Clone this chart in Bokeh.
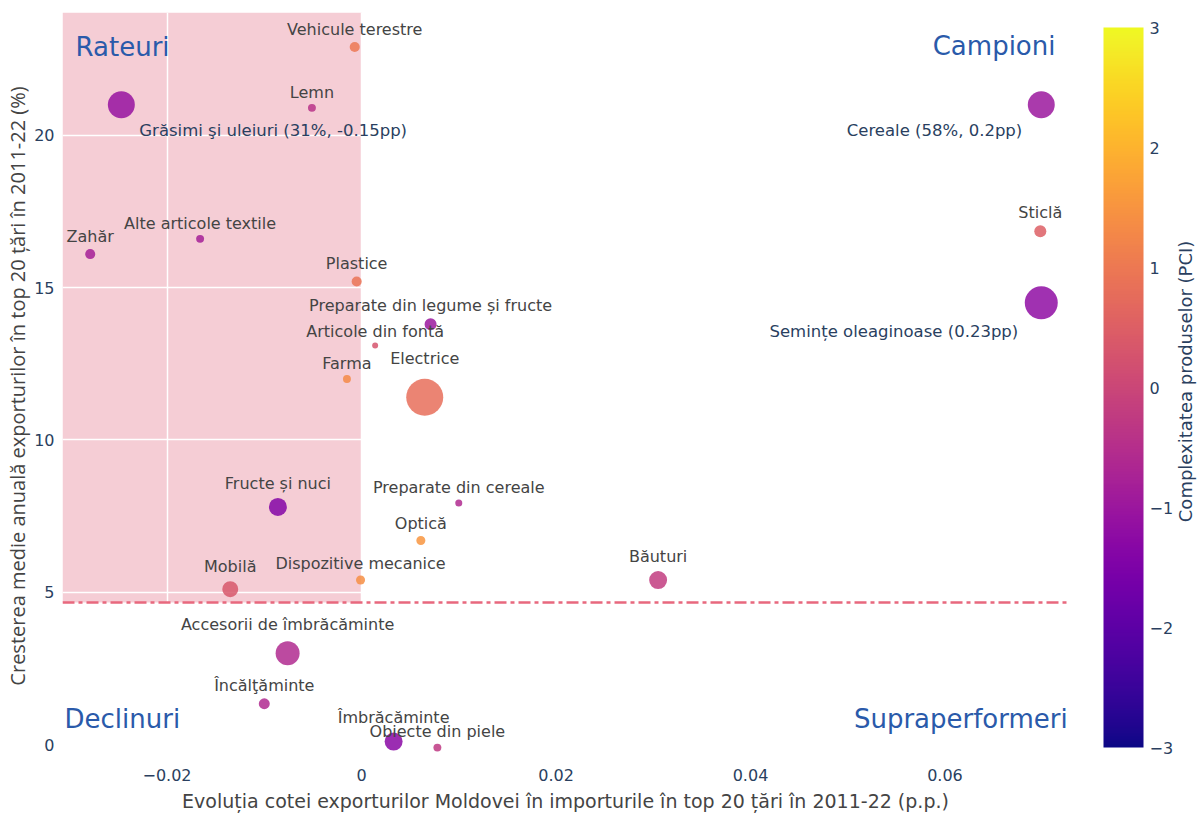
import math
from bokeh.plotting import figure
from bokeh.layouts import row
from bokeh.models import (ColumnDataSource, LinearColorMapper, ColorBar, FixedTicker,
                          CustomJSTickFormatter, Range1d, Span, BoxAnnotation, Label)
from bokeh.palettes import Plasma256
from bokeh.core.properties import value
from bokeh.embed import file_html
from bokeh.resources import INLINE

# ---------------- data ----------------
categorii = ["Grăsimi şi uleiuri", "Vehicule terestre", "Lemn", "Zahăr", "Alte articole textile",
             "Plastice", "Preparate din legume și fructe", "Articole din fontă", "Farma", "Electrice",
             "Fructe și nuci", "Preparate din cereale", "Optică", "Dispozitive mecanice", "Mobilă",
             "Băuturi", "Accesorii de îmbrăcăminte", "Încălţăminte", "Îmbrăcăminte", "Obiecte din piele",
             "Cereale", "Sticlă", "Semințe oleaginoase"]
evolutie_cota_pp = [-0.0247, -0.0007, -0.0051, -0.0279, -0.0166,
                    -0.0005, 0.0071, 0.0014, -0.0015, 0.0065,
                    -0.0086, 0.0100, 0.0061, -0.0001, -0.0135,
                    0.0305, -0.0076, -0.0100, 0.0033, 0.0078,
                    0.0699, 0.0698, 0.0699]
crestere_medie = [21.0, 22.9, 20.9, 16.1, 16.6,
                  15.2, 13.8, 13.1, 12.0, 11.4,
                  7.8, 7.93, 6.7, 5.4, 5.1,
                  5.4, 3.0, 1.34, 0.1, -0.1,
                  21.0, 16.85, 14.5]
pci = [-1.1, 1.0, -0.4, -0.8, -0.8,
       0.9, -1.0, 0.3, 1.3, 0.8,
       -1.4, -0.6, 1.5, 1.4, 0.35,
       -0.2, -0.6, -0.6, -1.3, -0.3,
       -1.0, 0.5, -1.2]
valoare_export = [266, 37, 23, 37, 23,
                  37, 53, 13, 23, 500,
                  118, 18, 30, 30, 93,
                  118, 210, 44, 118, 23,
                  266, 53, 398]
note_speciale = {"Grăsimi şi uleiuri": "Grăsimi şi uleiuri (31%, -0.15pp)",
                 "Cereale": "Cereale (58%, 0.2pp)",
                 "Semințe oleaginoase": "Semințe oleaginoase (0.23pp)"}
prag_crestere = 4.66
x_ticks = [-0.02, 0, 0.02, 0.04, 0.06]
y_ticks = [0, 5, 10, 15, 20]
pci_ticks = [-3, -2, -1, 0, 1, 2, 3]
cuadrante = ["Rateuri", "Campioni", "Declinuri", "Supraperformeri"]

# ---------------- styling ----------------
FONT = "DejaVu Sans"
TICK_COLOR = "#2a3f5f"
LABEL_COLOR = "#444444"
QUAD_COLOR = "#2A5AAA"
MAX_SIZE = 37.0
max_val = max(valoare_export)

sizes = [MAX_SIZE * math.sqrt(v / max_val) for v in valoare_export]
labels = ["" if c in note_speciale else c for c in categorii]
src = ColumnDataSource(dict(x=evolutie_cota_pp, y=crestere_medie, pci=pci, size=sizes,
                            label=labels, yoff=[-0.8 * s for s in sizes]))

p = figure(width=1070, height=814, output_backend="svg", toolbar_location=None,
           x_range=Range1d(-0.03075, 0.0727), y_range=Range1d(-0.49, 24.03))
p.min_border_top = 12
p.min_border_left = 62
p.min_border_right = 2
p.min_border_bottom = 54
p.outline_line_color = None
p.background_fill_color = "white"
p.border_fill_color = "white"

# pink "Rateuri" region
box = BoxAnnotation(right=0, bottom=prag_crestere, fill_color="#F5CDD5", fill_alpha=1.0,
                    line_color=None, level="image")
p.add_layout(box)

for g in (p.xgrid, p.ygrid):
    g.grid_line_color = "white"
    g.grid_line_width = 1.5
p.xgrid.ticker = FixedTicker(ticks=x_ticks)
p.ygrid.ticker = FixedTicker(ticks=y_ticks)

minus_fmt = CustomJSTickFormatter(code="""
  if (tick == 0) return '0';
  const s = Math.abs(tick).toString();
  return tick < 0 ? '\\u2212' + s : s;
""")

for ax in (p.xaxis[0], p.yaxis[0]):
    ax.axis_line_color = None
    ax.major_tick_line_color = None
    ax.minor_tick_line_color = None
    ax.major_label_text_font = FONT
    ax.major_label_text_font_size = "16px"
    ax.major_label_text_color = TICK_COLOR
    ax.axis_label_text_color = LABEL_COLOR
    ax.axis_label_text_font_style = "normal"
    ax.formatter = minus_fmt
p.xaxis[0].ticker = FixedTicker(ticks=x_ticks)
p.yaxis[0].ticker = FixedTicker(ticks=y_ticks)
p.xaxis[0].axis_label = "Evoluția cotei exporturilor Moldovei în importurile în top 20 țări în 2011-22 (p.p.)"
p.xaxis[0].axis_label_text_font = FONT
p.xaxis[0].axis_label_text_font_size = "19px"
p.xaxis[0].major_label_standoff = 3
p.xaxis[0].axis_label_standoff = 6
p.yaxis[0].axis_label = "Cresterea medie anuală exporturilor în top 20 țări în 2011-22 (%)"
p.yaxis[0].axis_label_text_font = "Open Sans"
p.yaxis[0].axis_label_text_font_size = "20px"
p.yaxis[0].major_label_standoff = 2
p.yaxis[0].axis_label_standoff = 0

# threshold line
p.add_layout(Span(location=prag_crestere, dimension="width", line_color="#E8687E",
                  line_width=2.5, line_dash="12 4 4 4"))

mapper = LinearColorMapper(palette=Plasma256, low=-3, high=3)
p.scatter("x", "y", size="size", source=src, fill_color={"field": "pci", "transform": mapper},
          fill_alpha=0.85, line_color=None)
p.text("x", "y", text="label", source=src, y_offset="yoff", text_align="center",
       text_baseline="bottom", text_font=value(FONT), text_font_size="16px", text_color=LABEL_COLOR)

# special annotations
for name, xo, yo, align in (("Grăsimi şi uleiuri", 18, 26, "left"),
                            ("Cereale", -19, 26, "right"),
                            ("Semințe oleaginoase", -23, 29, "right")):
    i = categorii.index(name)
    p.add_layout(Label(x=evolutie_cota_pp[i], y=crestere_medie[i], x_offset=xo, y_offset=-yo,
                       text=note_speciale[name], text_align=align, text_baseline="middle",
                       text_font=FONT, text_font_size="16.5px", text_color=TICK_COLOR))

# quadrant labels
for txt, xx, yy, align in ((cuadrante[0], -0.02941, 22.89, "left"),
                           (cuadrante[1], 0.07136, 22.92, "right"),
                           (cuadrante[2], -0.03054, 0.852, "left"),
                           (cuadrante[3], 0.07262, 0.852, "right")):
    p.add_layout(Label(x=xx, y=yy, text=txt, text_align=align, text_baseline="middle",
                       text_font=FONT, text_font_size="26px", text_color=QUAD_COLOR))

# ---------------- color bar panel ----------------
cbf = figure(width=127, height=814, output_backend="svg", toolbar_location=None,
             x_range=Range1d(0, 127), y_range=Range1d(0, 814),
             x_axis_type=None, y_axis_type=None, min_border=0)
cbf.outline_line_color = None
cbf.background_fill_color = "white"
cbf.border_fill_color = "white"

cb = ColorBar(color_mapper=mapper, ticker=FixedTicker(ticks=pci_ticks), formatter=minus_fmt,
              width=40, height=720, location=(33, 12), margin=0, padding=0,
              major_tick_line_color=None, bar_line_color=None, background_fill_alpha=0,
              border_line_color=None, major_label_text_font=FONT,
              major_label_text_font_size="16px", major_label_text_color=TICK_COLOR,
              label_standoff=6)
cbf.add_layout(cb)
cbf.add_layout(Label(x=115, y=412, text="Complexitatea produselor (PCI)", angle=math.pi / 2,
                     text_align="center", text_baseline="middle", text_font=FONT,
                     text_font_size="18px", text_color=TICK_COLOR))

layout = row(p, cbf)
open("out.html", "w").write(file_html(layout, INLINE))
